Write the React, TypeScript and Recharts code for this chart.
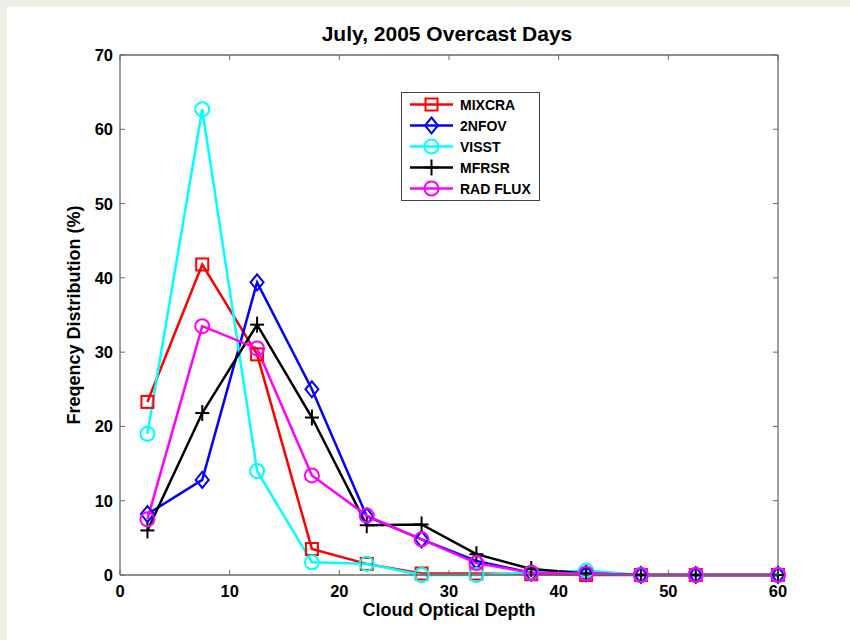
import React from 'react';
import { LineChart, Line, XAxis, YAxis, Legend } from 'recharts';

const depth = [2.5, 7.5, 12.5, 17.5, 22.5, 27.5, 32.5, 37.5, 42.5, 47.5, 52.5, 60];
const mixcra = [23.3, 41.8, 29.7, 3.5, 1.5, 0.2, 0.2, 0.1, 0, 0, 0, 0];
const nfov = [8.2, 12.8, 39.4, 25.0, 7.9, 4.8, 1.9, 0.3, 0.2, 0, 0, 0];
const visst = [19.0, 62.7, 14.0, 1.7, 1.5, 0, 0, 0.3, 0.6, 0, 0, 0];
const mfrsr = [6.0, 21.8, 33.7, 21.2, 6.7, 6.8, 2.8, 0.8, 0.2, 0, 0, 0];
const radflux = [7.5, 33.5, 30.5, 13.4, 8.0, 4.8, 1.6, 0.3, 0.2, 0, 0, 0];
const xTicks = [0, 10, 20, 30, 40, 50, 60];
const yTicks = [0, 10, 20, 30, 40, 50, 60, 70];

const title = 'July, 2005 Overcast Days';
const xLabel = 'Cloud Optical Depth';
const yLabel = 'Freqency Distribution (%)';

const data = depth.map((d, i) => ({
  depth: d,
  MIXCRA: mixcra[i],
  '2NFOV': nfov[i],
  VISST: visst[i],
  MFRSR: mfrsr[i],
  'RAD FLUX': radflux[i],
}));

type Shape = 'square' | 'diamond' | 'circle' | 'plus';
const series: { key: string; color: string; shape: Shape }[] = [
  { key: 'MIXCRA', color: '#ff0000', shape: 'square' },
  { key: '2NFOV', color: '#0000ff', shape: 'diamond' },
  { key: 'VISST', color: '#00ffff', shape: 'circle' },
  { key: 'MFRSR', color: '#000000', shape: 'plus' },
  { key: 'RAD FLUX', color: '#ff00ff', shape: 'circle' },
];

const FONT = '"Liberation Sans", Arial, sans-serif';
const FRAME = '#6a6a6a';

function Marker({ cx, cy, color, shape }: { cx: number; cy: number; color: string; shape: Shape }) {
  const sw = 2;
  if (shape === 'square')
    return <rect x={cx - 6} y={cy - 6} width={12} height={12} fill="none" stroke={color} strokeWidth={sw} />;
  if (shape === 'diamond')
    return (
      <polygon
        points={`${cx},${cy - 8} ${cx + 6.5},${cy} ${cx},${cy + 8} ${cx - 6.5},${cy}`}
        fill="none"
        stroke={color}
        strokeWidth={sw}
      />
    );
  if (shape === 'circle') return <circle cx={cx} cy={cy} r={7} fill="none" stroke={color} strokeWidth={sw} />;
  return (
    <g stroke={color} strokeWidth={sw}>
      <line x1={cx - 7} y1={cy} x2={cx + 7} y2={cy} />
      <line x1={cx} y1={cy - 8} x2={cx} y2={cy + 8} />
    </g>
  );
}

const TICK_LEN = 5;
const tickStyle = { fontFamily: FONT, fontWeight: 700, fontSize: 16.5, fill: '#000' } as const;
const labelStyle = { fontFamily: FONT, fontWeight: 700, fontSize: 18, fill: '#000' } as const;

function BottomTick(props: any) {
  const { x, y, payload } = props;
  return (
    <g>
      <line x1={x} y1={y} x2={x} y2={y - TICK_LEN} stroke={FRAME} strokeWidth={1} />
      <text x={x} y={y + 16} textAnchor="middle" dominantBaseline="central" style={tickStyle}>
        {payload.value}
      </text>
    </g>
  );
}
function TopTick(props: any) {
  const { x, y } = props;
  return <line x1={x} y1={y} x2={x} y2={y + TICK_LEN} stroke={FRAME} strokeWidth={1} />;
}
function LeftTick(props: any) {
  const { x, y, payload } = props;
  return (
    <g>
      <line x1={x} y1={y} x2={x + TICK_LEN} y2={y} stroke={FRAME} strokeWidth={1} />
      <text x={x - 7} y={y} textAnchor="end" dominantBaseline="central" style={tickStyle}>
        {payload.value}
      </text>
    </g>
  );
}
function RightTick(props: any) {
  const { x, y } = props;
  return <line x1={x} y1={y} x2={x - TICK_LEN} y2={y} stroke={FRAME} strokeWidth={1} />;
}

function LegendBox() {
  const rowH = 21;
  return (
    <svg width={140} height={110} style={{ display: 'block' }}>
      <rect x={0.5} y={0.5} width={138} height={108} fill="#fff" stroke="#444" strokeWidth={1} />
      {series.map((s, i) => {
        const cy = 12.5 + i * rowH;
        return (
          <g key={s.key}>
            <line x1={9} y1={cy} x2={52} y2={cy} stroke={s.color} strokeWidth={2.5} />
            <Marker cx={30.5} cy={cy} color={s.color} shape={s.shape} />
            <text
              x={59}
              y={cy}
              dominantBaseline="central"
              style={{ fontFamily: FONT, fontWeight: 700, fontSize: 14, fill: '#000' }}
            >
              {s.key}
            </text>
          </g>
        );
      })}
    </svg>
  );
}

export default function App() {
  return (
    <div style={{ position: 'absolute', left: 0, top: 0, width: 850, height: 640, background: '#eeede5' }}>
      <div style={{ position: 'absolute', left: 7, top: 7, width: 843, height: 633, background: '#ffffff' }} />
      <div style={{ position: 'absolute', left: 0, top: 0 }}>
        <LineChart width={850} height={640} data={data} margin={{ top: 54, right: 71, bottom: 0, left: 0 }}>
          <text x={447} y={33} textAnchor="middle" dominantBaseline="central" style={{ fontFamily: FONT, fontWeight: 700, fontSize: 21, fill: '#000' }}>
            {title}
          </text>
          <XAxis
            xAxisId="bottom"
            dataKey="depth"
            type="number"
            domain={[0, 60]}
            ticks={xTicks}
            orientation="bottom"
            height={65}
            tickSize={0}
            tickMargin={0}
            tickLine={false}
            axisLine={{ stroke: FRAME, strokeWidth: 1.3 }}
            tick={<BottomTick />}
            interval={0}
            label={(p: any) => {
              const vb = p.viewBox || {};
              return (
                <text x={vb.x + vb.width / 2} y={vb.y + 35} textAnchor="middle" dominantBaseline="central" style={labelStyle}>
                  {xLabel}
                </text>
              );
            }}
          />
          <XAxis
            xAxisId="top"
            dataKey="depth"
            type="number"
            domain={[0, 60]}
            ticks={xTicks}
            orientation="top"
            height={1}
            tickSize={0}
            tickMargin={0}
            tickLine={false}
            axisLine={{ stroke: FRAME, strokeWidth: 1.3 }}
            tick={<TopTick />}
            interval={0}
          />
          <YAxis
            yAxisId="left"
            type="number"
            domain={[0, 70]}
            ticks={yTicks}
            orientation="left"
            width={120}
            tickSize={0}
            tickMargin={0}
            tickLine={false}
            axisLine={{ stroke: FRAME, strokeWidth: 1.3 }}
            tick={<LeftTick />}
            interval={0}
            label={(p: any) => {
              const vb = p.viewBox || {};
              const cx = vb.x + vb.width - 46;
              const cy = vb.y + vb.height / 2;
              return (
                <text x={cx} y={cy} textAnchor="middle" dominantBaseline="central" transform={`rotate(-90 ${cx} ${cy})`} style={labelStyle}>
                  {yLabel}
                </text>
              );
            }}
          />
          <YAxis
            yAxisId="right"
            type="number"
            domain={[0, 70]}
            ticks={yTicks}
            orientation="right"
            width={1}
            tickSize={0}
            tickMargin={0}
            tickLine={false}
            axisLine={{ stroke: FRAME, strokeWidth: 1.3 }}
            tick={<RightTick />}
            interval={0}
          />
          <Legend
            layout="vertical"
            align="center"
            verticalAlign="middle"
            wrapperStyle={{ position: 'absolute', left: 401, top: 92, width: 140, height: 110 }}
            content={() => <LegendBox />}
          />
          <Line
            xAxisId="top"
            yAxisId="right"
            dataKey="MIXCRA"
            stroke="none"
            strokeWidth={0}
            dot={false}
            activeDot={false}
            legendType="none"
            isAnimationActive={false}
          />
          {series.map((s) => (
            <Line
              key={s.key}
              xAxisId="bottom"
              yAxisId="left"
              dataKey={s.key}
              stroke={s.color}
              strokeWidth={2.5}
              type="linear"
              isAnimationActive={false}
              dot={(p: any) => <Marker key={`${s.key}-${p.index}`} cx={p.cx} cy={p.cy} color={s.color} shape={s.shape} />}
              activeDot={false}
            />
          ))}
        </LineChart>
      </div>
    </div>
  );
}
